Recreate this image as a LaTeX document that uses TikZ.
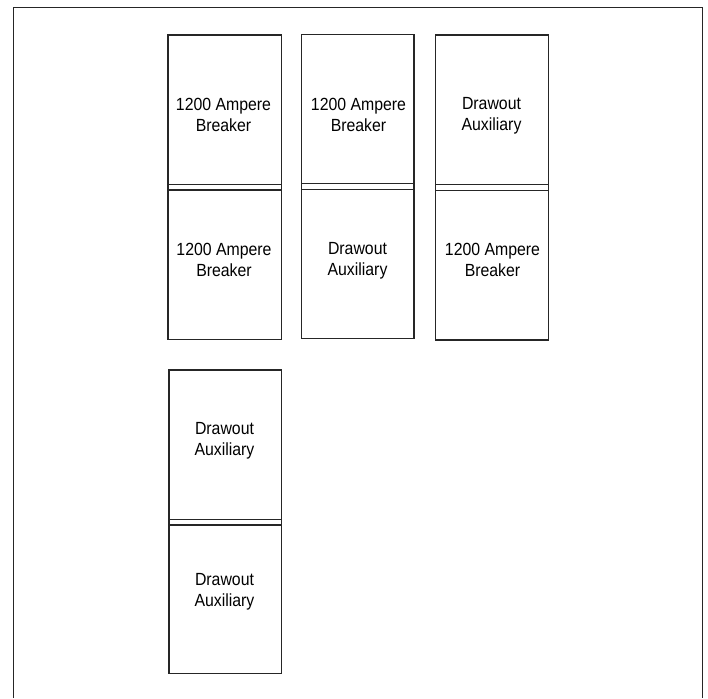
\documentclass[tikz,border=0pt]{standalone}
\usepackage{fontspec}
\setmainfont{Liberation Sans}[FakeStretch=0.9]
\usetikzlibrary{calc}
\tikzset{
  cab/.style={draw=black!85, line width=1.1pt, rectangle, inner sep=0pt, outer sep=0pt, anchor=north west},
  cabline/.style={draw=black!85, line width=1.1pt},
  lbl/.style={anchor=north, align=center, inner sep=0pt, font=\fontsize{17.6}{21}\selectfont},
  frameline/.style={draw=black!85, line width=1.3pt}
}
\begin{document}
\begin{tikzpicture}[x=1pt, y=-1pt]
\useasboundingbox (0,0) rectangle (708,698);
% outer frame (bottom edge lies outside the picture)
\coordinate (fbl) at (13.5,698);
\coordinate (ftl) at (13.5,7.5);
\coordinate (ftr) at (702.5,7.5);
\coordinate (fbr) at (702.5,698);
\draw[frameline] (fbl) -- (ftl) -- (ftr) -- (fbr);
% cabinets
\node[cab, minimum width=113.3pt, minimum height=304.3pt] (c1) at (168,35) {};
\node[cab, minimum width=112.3pt, minimum height=304.4pt] (c2) at (301.7,34.3) {};
\node[cab, minimum width=112.6pt, minimum height=305pt] (c3) at (435.7,35) {};
\node[cab, minimum width=112.3pt, minimum height=303.3pt] (c4) at (169,370) {};
% dividers
\draw[cabline] ($(c1.north west)+(0,149.3)$) -- ($(c1.north east)+(0,149.3)$);
\draw[cabline] ($(c1.north west)+(0,155)$) -- ($(c1.north east)+(0,155)$);
\draw[cabline] ($(c2.north west)+(0,149)$) -- ($(c2.north east)+(0,149)$);
\draw[cabline] ($(c2.north west)+(0,155)$) -- ($(c2.north east)+(0,155)$);
\draw[cabline] ($(c3.north west)+(0,149.7)$) -- ($(c3.north east)+(0,149.7)$);
\draw[cabline] ($(c3.north west)+(0,155.7)$) -- ($(c3.north east)+(0,155.7)$);
\draw[cabline] ($(c4.north west)+(0,149.3)$) -- ($(c4.north east)+(0,149.3)$);
\draw[cabline] ($(c4.north west)+(0,155)$) -- ($(c4.north east)+(0,155)$);
% labels
\node[lbl] (t1a) at (223.5,98.5) {1200 Ampere\\Breaker};
\node[lbl] (t1b) at (224,243.5) {1200 Ampere\\Breaker};
\node[lbl] (t2a) at (358.5,98.3) {1200 Ampere\\Breaker};
\node[lbl] (t2b) at (357.5,241.7) {Drawout\\Auxiliary};
\node[lbl] (t3a) at (491.5,96.7) {Drawout\\Auxiliary};
\node[lbl] (t3b) at (492.5,242.7) {1200 Ampere\\Breaker};
\node[lbl] (t4a) at (224.5,421.7) {Drawout\\Auxiliary};
\node[lbl] (t4b) at (224.5,573.3) {Drawout\\Auxiliary};
\end{tikzpicture}
\end{document}
